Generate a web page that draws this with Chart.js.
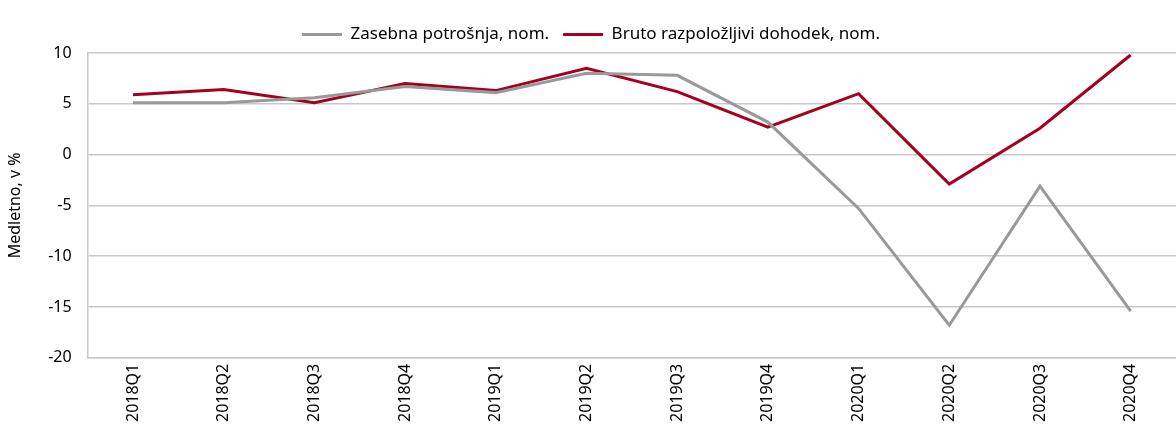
<!DOCTYPE html>
<html>
<head>
<meta charset="utf-8">
<script src="https://cdn.jsdelivr.net/npm/chart.js@4"></script>
<style>
  * { margin: 0; padding: 0; }
  body { background: #fff; }
  #wrap { width: 1176px; height: 428px; position: relative; }
</style>
</head>
<body>
<div id="wrap"><canvas id="chart"></canvas></div>
<script>
// data
const quarters = ["2018Q1", "2018Q2", "2018Q3", "2018Q4", "2019Q1", "2019Q2",
                  "2019Q3", "2019Q4", "2020Q1", "2020Q2", "2020Q3", "2020Q4"];
const consumption = [5.1, 5.1, 5.6, 6.7, 6.1, 8.0, 7.8, 3.2, -5.3, -16.8, -3.1, -15.4];
const income = [5.9, 6.4, 5.1, 7.0, 6.3, 8.5, 6.2, 2.7, 6.0, -2.9, 2.6, 9.8];
const yTicks = [10, 5, 0, -5, -10, -15, -20];

const font = "'Noto Sans', 'DejaVu Sans', sans-serif";
const gridGray = "#c8c8c8";

new Chart(document.getElementById("chart"), {
    type: "line",
    data: {
        labels: quarters,
        datasets: [
            {
                label: "Zasebna potrošnja, nom.",
                data: consumption,
                borderColor: "#999999",
                backgroundColor: "#999999",
                borderWidth: 3,
                pointRadius: 0,
                tension: 0
            },
            {
                label: "Bruto razpoložljivi dohodek, nom.",
                data: income,
                borderColor: "#a50021",
                backgroundColor: "#a50021",
                borderWidth: 3,
                pointRadius: 0,
                tension: 0
            }
        ]
    },
    options: {
        responsive: true,
        maintainAspectRatio: false,
        animation: false,
        layout: { padding: { left: 6, right: 0, top: 12, bottom: 0 } },
        plugins: {
            legend: {
                position: "top",
                labels: {
                    font: { family: font, size: 17 },
                    color: "#000",
                    usePointStyle: true,
                    pointStyleWidth: 40,
                    pointStyle: "line",
                    boxHeight: 3,
                    padding: 14
                }
            },
            tooltip: { enabled: false }
        },
        scales: {
            x: {
                offset: true,
                grid: { display: false, drawTicks: false },
                border: { color: gridGray, width: 1.5 },
                ticks: {
                    font: { family: font, size: 16 },
                    color: "#000",
                    maxRotation: 90,
                    minRotation: 90,
                    padding: 6
                }
            },
            y: {
                min: -20,
                max: 10,
                afterBuildTicks: axis => {
                    axis.ticks = yTicks.map(v => ({ value: v }));
                },
                grid: { color: gridGray, lineWidth: 1.5, drawTicks: false },
                border: { color: gridGray, width: 1.5 },
                ticks: {
                    font: { family: font, size: 16 },
                    color: "#000",
                    padding: 16
                },
                title: {
                    display: true,
                    text: "Medletno, v %",
                    font: { family: font, size: 16 },
                    color: "#000",
                    padding: { top: 0, bottom: 7 }
                }
            }
        }
    }
});
</script>
</body>
</html>
